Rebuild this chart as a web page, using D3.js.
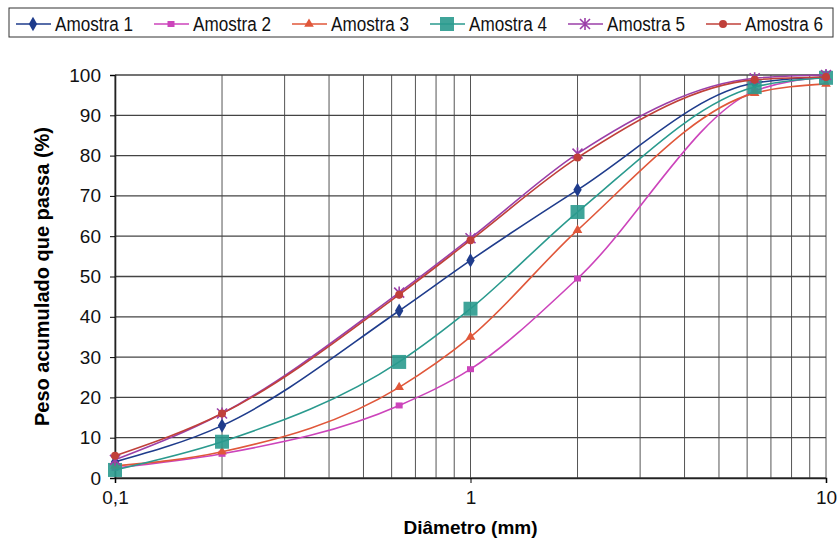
<!DOCTYPE html>
<html>
<head>
<meta charset="utf-8">
<script src="https://cdn.jsdelivr.net/npm/d3@7"></script>
<style>
  body { margin: 0; background: #fff; }
  text { font-family: "Liberation Sans", Arial, sans-serif; }
</style>
</head>
<body>
<svg id="chart" width="837" height="538"></svg>
<script>
// diametro das peneiras (mm)
const diametros = [0.1, 0.2, 0.63, 1, 2, 6.3, 10];

// peso acumulado que passa (%) por amostra
const amostra1 = [4, 13, 41.5, 54, 71.5, 98, 99.5];
const amostra2 = [2.5, 6, 18, 27, 49.5, 96, 99.5];
const amostra3 = [3, 6.5, 22.5, 35, 61.5, 95.5, 97.8];
const amostra4 = [2, 9, 28.8, 42, 66, 97, 99.3];
const amostra5 = [4.5, 16, 46, 59.5, 80.5, 99.2, 100];
const amostra6 = [5.5, 16, 45.5, 59, 79.5, 98.8, 99.5];

const seriesNames = ["Amostra 1", "Amostra 2", "Amostra 3", "Amostra 4", "Amostra 5", "Amostra 6"];
const xTickValues = [0.1, 1, 10];
const xTickLabels = ["0,1", "1", "10"];
const yTickValues = [0, 10, 20, 30, 40, 50, 60, 70, 80, 90, 100];

const valores = [amostra1, amostra2, amostra3, amostra4, amostra5, amostra6];
const cores = ["#1f3c8c", "#cc44bb", "#e0573a", "#2a9a8e", "#9b3fa8", "#c0403a"];
const simbolos = ["diamond", "square", "triangle", "bigsquare", "star", "circle"];

const svg = d3.select("#chart");

const x = d3.scaleLog().domain([0.1, 10]).range([115, 826]);
const y = d3.scaleLinear().domain([0, 100]).range([478, 75]);

// grade
svg.append("g").selectAll("line")
    .data(x.ticks())
    .enter().append("line")
    .attr("x1", d => x(d)).attr("x2", d => x(d))
    .attr("y1", y(0)).attr("y2", y(100))
    .attr("stroke", "#555").attr("stroke-width", 1);

svg.append("g").selectAll("line")
    .data(yTickValues)
    .enter().append("line")
    .attr("x1", x(0.1)).attr("x2", x(10))
    .attr("y1", d => y(d)).attr("y2", d => y(d))
    .attr("stroke", "#444").attr("stroke-width", 1.3);

// eixos
const yAxis = svg.append("g")
    .attr("transform", `translate(${x(0.1)},0)`)
    .call(d3.axisLeft(y).tickValues(yTickValues).tickSize(5).tickPadding(9));
yAxis.select(".domain").attr("stroke", "#222").attr("stroke-width", 1.6);
yAxis.selectAll("text").attr("font-size", "19px").attr("fill", "#111");

const xAxis = svg.append("g")
    .attr("transform", `translate(0,${y(0)})`)
    .call(d3.axisBottom(x).tickValues(xTickValues).tickFormat((d, i) => xTickLabels[i]).tickSize(5).tickPadding(8));
xAxis.select(".domain").attr("stroke", "#222").attr("stroke-width", 1.6);
xAxis.selectAll("text").attr("font-size", "19px").attr("fill", "#111");

// titulos
svg.append("text")
    .attr("x", x(1)).attr("y", 534)
    .attr("text-anchor", "middle")
    .attr("font-size", "19px").attr("font-weight", "bold")
    .text("Diâmetro (mm)");

svg.append("text")
    .attr("transform", `translate(49,${(y(0) + y(100)) / 2}) rotate(-90)`)
    .attr("text-anchor", "middle")
    .attr("font-size", "20px").attr("font-weight", "bold")
    .text("Peso acumulado que passa (%)");

// desenha um marcador
function marcador(g, tipo, cor) {
    if (tipo === "diamond") {
        g.append("path").attr("d", d3.symbol(d3.symbolDiamond, 60)()).attr("fill", cor);
    } else if (tipo === "square") {
        g.append("rect").attr("x", -3.5).attr("y", -3).attr("width", 7).attr("height", 6).attr("fill", cor);
    } else if (tipo === "triangle") {
        g.append("path").attr("d", d3.symbol(d3.symbolTriangle, 40)()).attr("fill", cor);
    } else if (tipo === "bigsquare") {
        g.append("rect").attr("x", -7).attr("y", -7).attr("width", 14).attr("height", 14).attr("fill", cor).attr("opacity", 0.9);
    } else if (tipo === "star") {
        g.append("path").attr("d", "M-5,-5L5,5M-5,5L5,-5M0,-6L0,6").attr("stroke", cor).attr("stroke-width", 1.6);
    } else {
        g.append("circle").attr("r", 4).attr("fill", cor);
    }
}

const linha = d3.line()
    .x((d, i) => x(diametros[i]))
    .y(d => y(d))
    .curve(d3.curveMonotoneX);

valores.forEach((serie, k) => {
    svg.append("path")
        .datum(serie)
        .attr("d", linha)
        .attr("fill", "none")
        .attr("stroke", cores[k])
        .attr("stroke-width", 1.6);

    serie.forEach((v, i) => {
        const g = svg.append("g").attr("transform", `translate(${x(diametros[i])},${y(v)})`);
        marcador(g, simbolos[k], cores[k]);
    });
});

// legenda
svg.append("rect")
    .attr("x", 9).attr("y", 8).attr("width", 824).attr("height", 29)
    .attr("fill", "#fff").attr("stroke", "#333").attr("stroke-width", 1);

seriesNames.forEach((nome, k) => {
    const x0 = 16 + k * 138;
    svg.append("line")
        .attr("x1", x0).attr("x2", x0 + 35)
        .attr("y1", 24).attr("y2", 24)
        .attr("stroke", cores[k]).attr("stroke-width", 1.6);
    const g = svg.append("g").attr("transform", `translate(${x0 + 17},24)`);
    marcador(g, simbolos[k], cores[k]);
    svg.append("text")
        .attr("x", x0 + 39).attr("y", 31)
        .attr("font-size", "20px")
        .attr("textLength", 78)
        .attr("lengthAdjust", "spacingAndGlyphs")
        .attr("fill", "#111")
        .text(nome);
});
</script>
</body>
</html>
